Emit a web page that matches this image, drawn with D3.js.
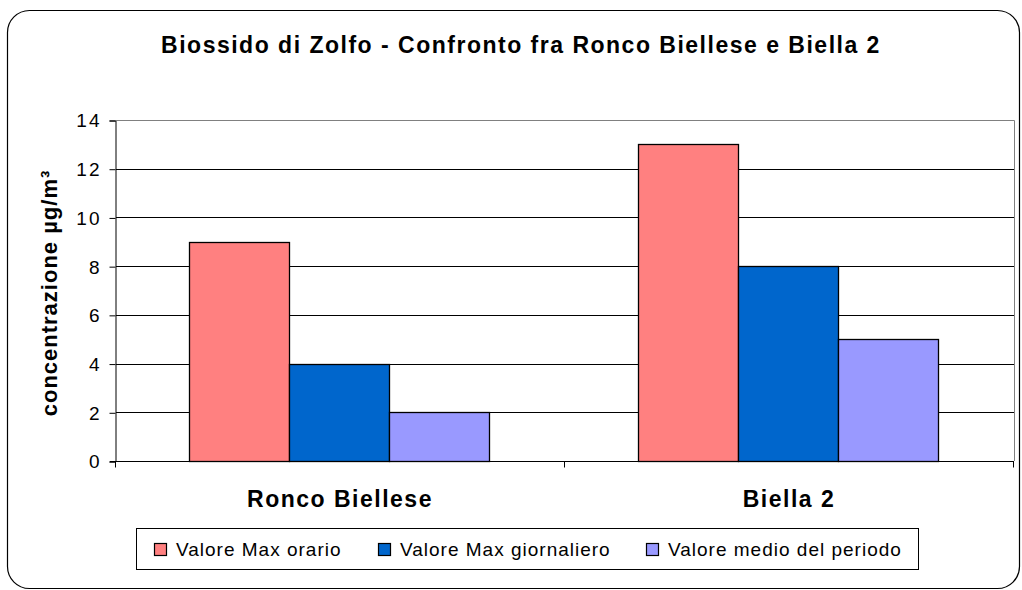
<!DOCTYPE html>
<html><head><meta charset="utf-8">
<script src="https://cdn.jsdelivr.net/npm/d3@7"></script>
<style>body{margin:0;background:#fff;}svg{display:block;font-family:Arial,"Liberation Sans",sans-serif;}</style>
</head><body>
<svg id="c" width="1022" height="590"></svg>
<script>
const categories = ["Ronco Biellese", "Biella 2"];
const seriesNames = ["Valore Max orario", "Valore Max giornaliero", "Valore medio del periodo"];
const maxOrario = [9, 13];
const maxGiornaliero = [4, 8];
const medioPeriodo = [2, 5];
const yTicks = [0, 2, 4, 6, 8, 10, 12, 14];
const colors = ["#FF8080", "#0066CC", "#9999FF"];
const title = "Biossido di Zolfo - Confronto fra Ronco Biellese e Biella 2";
const yLabel = "concentrazione µg/m³";

const seriesValues = [maxOrario, maxGiornaliero, medioPeriodo];
const svg = d3.select("#c");
const FONT = "Arial, 'Liberation Sans', sans-serif";

// outer rounded border
svg.append("rect").attr("x", 7.5).attr("y", 10.5).attr("width", 1012).attr("height", 578)
  .attr("rx", 22).attr("ry", 22).attr("fill", "#fff").attr("stroke", "#000").attr("stroke-width", 1.2);

const L = 116, R = 1014, T = 120, B = 461;
const x0 = d3.scaleBand().domain(categories).range([L, R]).padding(0);
const x1 = d3.scaleBand().domain(seriesNames).range([73, 373]).padding(0);
const y = d3.scaleLinear().domain([0, 14]).range([B, T]);

// plot frame (top/right gray)
svg.append("path").attr("d", `M${L},${T}.5H${R}.5V${B}`).attr("fill", "none").attr("stroke", "#808080").attr("stroke-width", 1);

// gridlines
svg.append("g").selectAll("line").data(yTicks.filter(d => d > 0 && d < 14)).join("line")
  .attr("x1", L).attr("x2", R).attr("y1", d => Math.round(y(d)) + 0.5).attr("y2", d => Math.round(y(d)) + 0.5)
  .attr("stroke", "#000").attr("stroke-width", 1);

// bars
const g = svg.append("g");
categories.forEach((c, ci) => {
  seriesNames.forEach((s, si) => {
    const v = seriesValues[si][ci];
    g.append("rect")
      .attr("x", x0(c) + x1(s) + 0.5).attr("y", Math.round(y(v)) + 0.5)
      .attr("width", x1.bandwidth()).attr("height", Math.round(y(0)) - Math.round(y(v)))
      .attr("fill", colors[si]).attr("stroke", "#000").attr("stroke-width", 1.3);
  });
});

// y axis
const yAxis = d3.axisLeft(y).tickValues(yTicks).tickSize(6).tickPadding(8).tickFormat(d3.format("d"));
const ya = svg.append("g").attr("transform", `translate(${L - 0.5},0.5)`).call(yAxis);
ya.attr("font-family", FONT).attr("font-size", 19);
ya.select(".domain").attr("stroke", "#000");
ya.selectAll(".tick line").attr("stroke", "#000");
ya.selectAll("text").attr("fill", "#000").attr("letter-spacing", 2).attr("dy", "0.34em");

// x axis
const xa = svg.append("g").attr("transform", `translate(0,${B + 0.5})`);
xa.append("line").attr("x1", L - 6).attr("x2", R).attr("stroke", "#000");
xa.selectAll(".t").data([L, ...categories.map(c => x0(c) + x0.bandwidth())]).join("line")
  .attr("x1", d => Math.round(d) - 0.5).attr("x2", d => Math.round(d) - 0.5).attr("y1", 0).attr("y2", 6).attr("stroke", "#000");
svg.append("g").selectAll("text").data(categories).join("text")
  .attr("x", d => x0(d) + (x1.range()[0] + x1.range()[1]) / 2 + 1).attr("y", 507)
  .attr("text-anchor", "middle").attr("font-size", 23).attr("font-weight", "bold").attr("letter-spacing", 1.5).text(d => d);

// title
svg.append("text").attr("x", 521).attr("y", 53).attr("text-anchor", "middle")
  .attr("font-size", 23).attr("font-weight", "bold").attr("letter-spacing", 1.5).text(title);

// y label
svg.append("text").attr("transform", "translate(57,293) rotate(-90)").attr("text-anchor", "middle")
  .attr("font-size", 22).attr("font-weight", "bold").attr("letter-spacing", 1).text(yLabel);

// legend
svg.append("rect").attr("x", 136.5).attr("y", 528.5).attr("width", 782).attr("height", 41)
  .attr("fill", "#fff").attr("stroke", "#000").attr("stroke-width", 1);
const legX = [154, 378, 646];
const lg = svg.append("g").selectAll("g").data(seriesNames).join("g")
  .attr("transform", (d, i) => `translate(${legX[i]},0)`);
lg.append("rect").attr("x", 0.5).attr("y", 543.5).attr("width", 12).attr("height", 12)
  .attr("fill", (d, i) => colors[i]).attr("stroke", "#000").attr("stroke-width", 1.2);
lg.append("text").attr("x", 22).attr("y", 555.5).attr("font-size", 19).attr("letter-spacing", 1).text(d => d);
</script>
</body></html>
